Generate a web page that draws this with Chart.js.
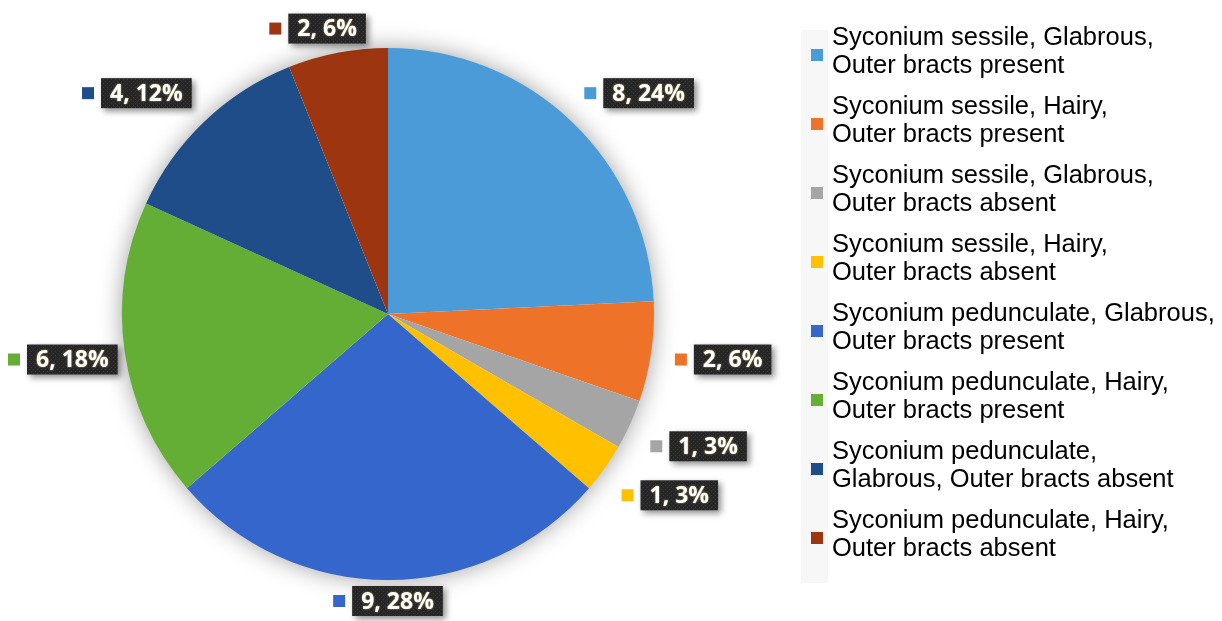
<!DOCTYPE html>
<html>
<head>
<meta charset="utf-8">
<script src="https://cdn.jsdelivr.net/npm/chart.js@4"></script>
<style>
  html, body { margin: 0; padding: 0; background: #fff; }
  #wrap { width: 1222px; height: 621px; position: relative; }
</style>
</head>
<body>
<div id="wrap"><canvas id="pieChart"></canvas></div>
<script>
// data
const categories = [
    ['Syconium sessile, Glabrous,', 'Outer bracts present'],
    ['Syconium sessile, Hairy,', 'Outer bracts present'],
    ['Syconium sessile, Glabrous,', 'Outer bracts absent'],
    ['Syconium sessile, Hairy,', 'Outer bracts absent'],
    ['Syconium pedunculate, Glabrous,', 'Outer bracts present'],
    ['Syconium pedunculate, Hairy,', 'Outer bracts present'],
    ['Syconium pedunculate,', 'Glabrous, Outer bracts absent'],
    ['Syconium pedunculate, Hairy,', 'Outer bracts absent']
];
const counts = [8, 2, 1, 1, 9, 6, 4, 2];
const percents = ['24%', '6%', '3%', '3%', '28%', '18%', '12%', '6%'];
const colors = ['#4c9bd9', '#ee7227', '#a5a5a5', '#ffc000', '#3466cb', '#64ae36', '#1e4d8a', '#9c3510'];

// soft shadow behind the pie
const pieShadow = {
    id: 'pieShadow',
    beforeDatasetsDraw(chart) {
        const arc = chart.getDatasetMeta(0).data[0];
        const ctx = chart.ctx;
        ctx.save();
        ctx.shadowColor = 'rgba(0,0,0,0.4)';
        ctx.shadowBlur = 24;
        ctx.fillStyle = '#fff';
        ctx.beginPath();
        ctx.arc(arc.x, arc.y, arc.outerRadius - 1, 0, Math.PI * 2);
        ctx.fill();
        ctx.restore();
    }
};

// dark boxes with "value, percent" outside each slice
function dotPattern(ctx) {
    const c = document.createElement('canvas');
    c.width = 4; c.height = 4;
    const p = c.getContext('2d');
    p.fillStyle = '#262626';
    p.fillRect(0, 0, 4, 4);
    p.fillStyle = '#3a3a3a';
    p.fillRect(1, 1, 1, 1);
    p.fillRect(3, 3, 1, 1);
    return ctx.createPattern(c, 'repeat');
}

const outsideLabels = {
    id: 'outsideLabels',
    afterDatasetsDraw(chart) {
        const ctx = chart.ctx;
        const pattern = dotPattern(ctx);
        const clamp = v => Math.max(-1, Math.min(1, v));
        chart.getDatasetMeta(0).data.forEach((arc, i) => {
            const p = arc.getProps(['x', 'y', 'startAngle', 'endAngle', 'outerRadius'], true);
            const mid = (p.startAngle + p.endAngle) / 2;
            const dx = Math.cos(mid), dy = Math.sin(mid);
            const text = counts[i] + ', ' + percents[i];
            ctx.save();
            ctx.font = 'bold 23px "Open Sans"';
            const tw = ctx.measureText(text).width;
            const boxW = tw + 18, boxH = 30, mark = 12, gap = 7;
            const W = mark + gap + boxW;
            const dist = p.outerRadius + 6 + 18 * Math.abs(dx);
            const cx = p.x + dx * dist + clamp(2 * dx) * W / 2;
            const cy = p.y + dy * dist + clamp(2 * dy) * boxH / 2;
            // keep the label inside the canvas
            const left = Math.max(8, cx - W / 2);

            ctx.fillStyle = colors[i];
            ctx.fillRect(left, cy - mark / 2, mark, mark);

            const bx = left + mark + gap, by = cy - boxH / 2;
            ctx.shadowColor = 'rgba(0,0,0,0.45)';
            ctx.shadowBlur = 6;
            ctx.shadowOffsetX = 3;
            ctx.shadowOffsetY = 3;
            ctx.fillStyle = pattern;
            ctx.fillRect(bx, by, boxW, boxH);

            ctx.shadowOffsetX = 0;
            ctx.shadowOffsetY = 0;
            ctx.shadowBlur = 2;
            ctx.shadowColor = 'rgba(255,215,120,0.7)';
            ctx.fillStyle = '#fff';
            ctx.textBaseline = 'middle';
            ctx.textAlign = 'center';
            ctx.fillText(text, bx + boxW / 2, cy + 1);
            ctx.restore();
        });
    }
};

// legend on the right
const sideLegend = {
    id: 'sideLegend',
    afterDraw(chart) {
        const ctx = chart.ctx;
        ctx.save();
        ctx.fillStyle = '#f7f7f7';
        ctx.fillRect(801, 30, 27, 553);
        ctx.font = '25.5px "Liberation Sans", Arial';
        ctx.textBaseline = 'alphabetic';
        categories.forEach((lines, i) => {
            const base = 45 + i * 69;
            ctx.fillStyle = colors[i];
            ctx.fillRect(811, base + 4, 12, 12);
            ctx.fillStyle = '#000';
            lines.forEach((line, j) => {
                ctx.fillText(line, 832, base + j * 28);
            });
        });
        ctx.restore();
    }
};

document.addEventListener('DOMContentLoaded', function () {
    const ctx = document.getElementById('pieChart').getContext('2d');
    new Chart(ctx, {
        type: 'pie',
        data: {
            labels: categories,
            datasets: [{
                data: counts,
                backgroundColor: colors,
                borderWidth: 0
            }]
        },
        options: {
            responsive: true,
            maintainAspectRatio: false,
            animation: false,
            layout: {
                padding: { left: 122, right: 568, top: 48, bottom: 41 }
            },
            plugins: {
                legend: { display: false },
                tooltip: { enabled: false }
            }
        },
        plugins: [pieShadow, outsideLabels, sideLegend]
    });
});
</script>
</body>
</html>
